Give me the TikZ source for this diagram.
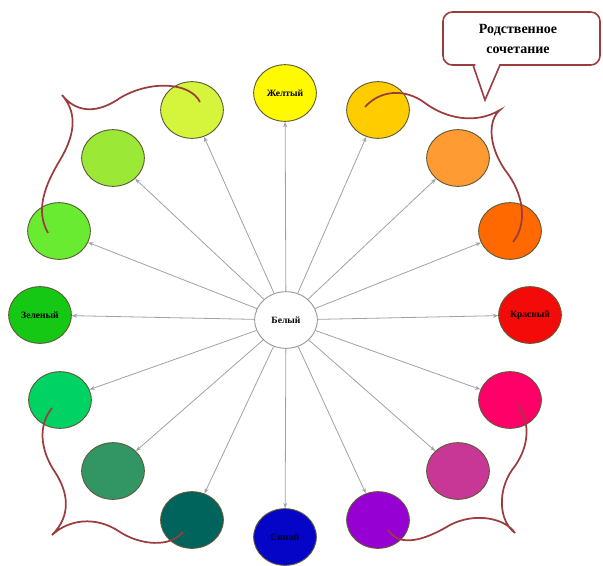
\documentclass[tikz,border=0pt]{standalone}
\usepackage{fontspec}
\setmainfont{Liberation Serif}
\usetikzlibrary{shapes.geometric,arrows.meta}
\definecolor{cYel}{RGB}{255,250,0}
\definecolor{cYG}{RGB}{212,245,60}
\definecolor{cLG}{RGB}{155,232,55}
\definecolor{cG2}{RGB}{105,235,50}
\definecolor{cGrn}{RGB}{20,200,20}
\definecolor{cSea}{RGB}{0,210,100}
\definecolor{cMed}{RGB}{50,150,100}
\definecolor{cTeal}{RGB}{0,100,92}
\definecolor{cBlue}{RGB}{5,5,200}
\definecolor{cPur}{RGB}{150,0,210}
\definecolor{cMag}{RGB}{200,55,150}
\definecolor{cPink}{RGB}{255,0,105}
\definecolor{cRed}{RGB}{245,10,10}
\definecolor{cOr}{RGB}{255,105,0}
\definecolor{cLO}{RGB}{255,155,50}
\definecolor{cGold}{RGB}{255,204,0}
\definecolor{rim}{RGB}{95,90,55}
\definecolor{arrgray}{RGB}{160,160,170}
\definecolor{brace}{RGB}{155,60,62}
\tikzset{
  disc/.style={ellipse, draw=rim, line width=0.7pt, minimum width=47pt, minimum height=42.5pt, inner sep=0pt,
    font=\fontsize{7.2}{8}\selectfont\bfseries},
  ray/.style={draw=arrgray, line width=0.6pt, -{Stealth[length=4pt,width=3pt]}},
  bracecurve/.style={draw=brace, line width=1.3pt},
  callout/.style={draw=brace, line width=1.2pt, fill=white}
}
\begin{document}
\begin{tikzpicture}[x=0.75pt,y=-0.75pt]
\useasboundingbox (0,0) rectangle (603,565);
% center
\node[disc, draw=gray!80, fill=white] (w) at (286,320) {Белый};
% ring
\node[disc, fill=cYel] (c0) at (285,93) {Желтый};
\node[disc, fill=cGold] (c1) at (378,110) {};
\node[disc, fill=cLO] (c2) at (458,158) {};
\node[disc, fill=cOr] (c3) at (510,231) {};
\node[disc, fill=cRed] (c4) at (530,315) {Красный};
\node[disc, fill=cPink] (c5) at (510,400) {};
\node[disc, fill=cMag] (c6) at (458,471) {};
\node[disc, fill=cPur] (c7) at (378,520) {};
\node[disc, fill=cBlue, text=black!85!blue] (c8) at (285,537) {Синий};
\node[disc, fill=cTeal] (c9) at (192,520) {};
\node[disc, fill=cMed] (c10) at (113,471) {};
\node[disc, fill=cSea] (c11) at (60,400) {};
\node[disc, fill=cGrn] (c12) at (40,315) {Зеленый};
\node[disc, fill=cG2] (c13) at (59,231) {};
\node[disc, fill=cLG] (c14) at (113,158) {};
\node[disc, fill=cYG] (c15) at (192,110) {};
% rays
\foreach \i in {0,...,15} { \draw[ray] (w) -- (c\i); }
% braces
\draw[bracecurve] (200,102) .. controls (190,82) and (150,80) .. (120,98)
  .. controls (100,112) and (78,115) .. (62,95)
  .. controls (75,110) and (78,130) .. (60,160)
  .. controls (45,185) and (35,210) .. (48,233);
\draw[bracecurve] (365,107) .. controls (380,90) and (405,88) .. (425,103)
  .. controls (445,118) and (475,125) .. (500,110)
  .. controls (488,120) and (488,145) .. (505,170)
  .. controls (525,195) and (527,225) .. (513,242);
\draw[bracecurve] (52,408) .. controls (38,425) and (40,450) .. (55,472)
  .. controls (68,492) and (72,515) .. (52,535)
  .. controls (68,520) and (95,515) .. (120,532)
  .. controls (140,545) and (170,548) .. (183,532);
\draw[bracecurve] (518,405) .. controls (532,425) and (528,450) .. (512,470)
  .. controls (498,490) and (498,520) .. (515,533)
  .. controls (505,518) and (475,512) .. (450,525)
  .. controls (425,540) and (400,548) .. (388,530);
% callout
\draw[callout] (560,65) [rounded corners=7pt] -- (600,65) -- (600,12) -- (443,12) -- (443,65) -- (466,65)
  [sharp corners] -- (473,65) -- (485,100) -- (500,65) -- cycle;
\node[font=\fontsize{10.5}{15}\selectfont\bfseries, align=center] (ct) at (518,39) {Родственное\\сочетание};
\end{tikzpicture}
\end{document}
